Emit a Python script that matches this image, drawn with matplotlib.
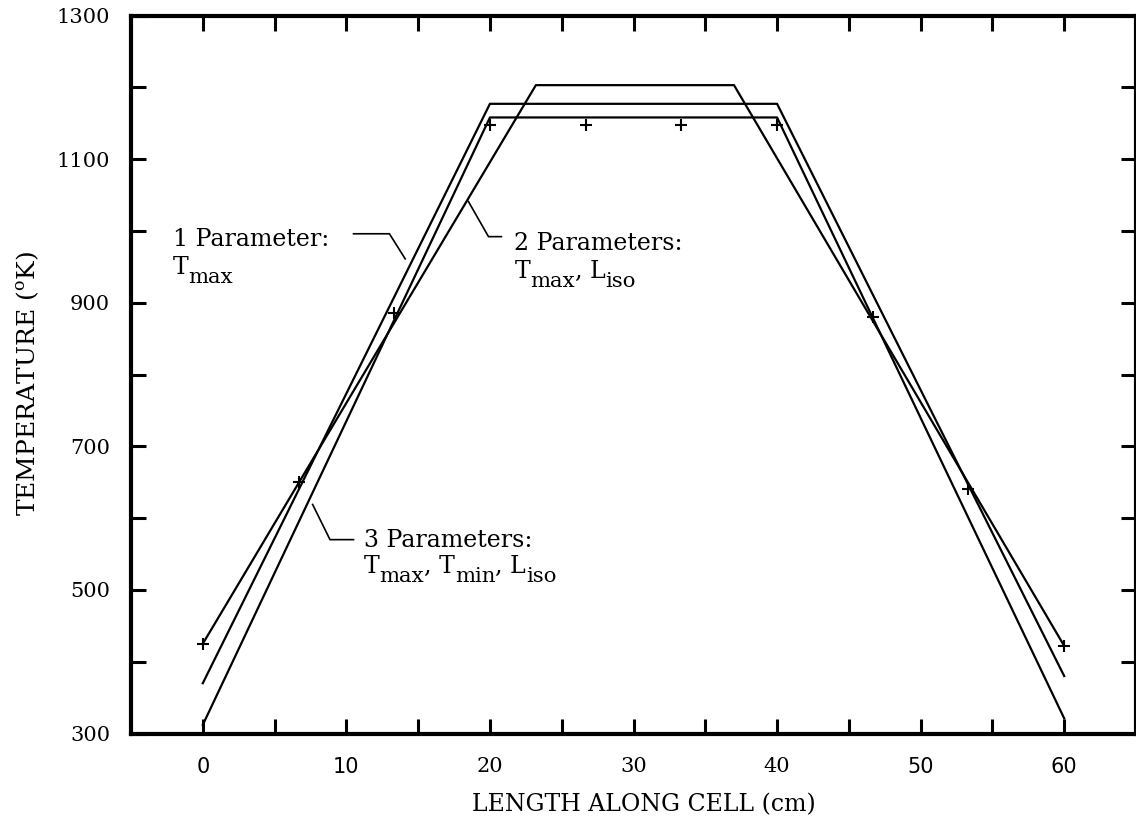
import numpy as np
import matplotlib
matplotlib.use("Agg")
import matplotlib.pyplot as plt
from matplotlib.transforms import offset_copy

plt.rcParams['font.family'] = ['DejaVu Serif']
plt.rcParams['mathtext.fontset'] = 'dejavuserif'

# measured temperatures along the cell
x_meas = [0, 6.67, 13.33, 20, 26.67, 33.33, 40, 46.67, 53.33, 60]
t_meas = [425, 650, 885, 1147, 1147, 1147, 1147, 880, 640, 422]

# trapezoidal fits
x_fit1 = [0, 20, 40, 60]
t_fit1 = [370, 1177, 1177, 380]      # 1 parameter: Tmax

x_fit2 = [0, 23.2, 37.0, 60]
t_fit2 = [425, 1203, 1203, 422]      # 2 parameters: Tmax, Liso

x_fit3 = [0, 20, 40, 60]
t_fit3 = [312, 1158, 1158, 321]      # 3 parameters: Tmax, Tmin, Liso

x_ticks = np.arange(0, 61, 5)
x_labels = ['0', '', '10', '', '20', '', '30', '', '40', '', '50', '', '60']
y_ticks = np.arange(300, 1301, 100)
y_labels = ['300', '', '500', '', '700', '', '900', '', '1100', '', '1300']

fig = plt.figure(figsize=(11.36, 8.19), dpi=100)
ax = fig.add_axes([131 / 1136, 1 - 733.5 / 819, 1005 / 1136, 718 / 819])
renderer = fig.canvas.get_renderer()


def sub_text(x, y, parts, fs):
    """Write text with typewriter-style subscripts: parts = [(str, is_sub), ...]."""
    dx = 0.0
    for s, is_sub in parts:
        size = fs * 0.9 if is_sub else fs
        dy = -9.0 if is_sub else 0.0
        tr = offset_copy(ax.transData, fig=fig, x=dx, y=dy, units='dots')
        t = ax.text(x, y, s, fontsize=size, ha='left', va='baseline', transform=tr)
        dx += t.get_window_extent(renderer).width


ax.plot(x_fit1, t_fit1, color='black', lw=1.6)
ax.plot(x_fit2, t_fit2, color='black', lw=1.6)
ax.plot(x_fit3, t_fit3, color='black', lw=1.6)
ax.plot(x_meas, t_meas, linestyle='none', marker='+', markersize=9,
        markeredgewidth=1.5, color='black')

# labels with leader lines
fs = 17
ax.text(-2.1, 979, '1 Parameter:', fontsize=fs, va='baseline', ha='left')
sub_text(-2.1, 940, [('T', False), ('max', True)], fs)
ax.plot([10.5, 13.0, 14.1], [996, 996, 961], color='black', lw=1.2)

ax.text(21.7, 973, '2 Parameters:', fontsize=fs, va='baseline', ha='left')
sub_text(21.7, 934, [('T', False), ('max', True), (', L', False), ('iso', True)], fs)
ax.plot([20.8, 19.9, 18.5], [992, 992, 1041], color='black', lw=1.2)

ax.text(11.2, 560, '3 Parameters:', fontsize=fs, va='baseline', ha='left')
sub_text(11.2, 523, [('T', False), ('max', True), (', T', False), ('min', True),
                     (', L', False), ('iso', True)], fs)
ax.plot([10.5, 8.86, 7.65], [570, 570, 619], color='black', lw=1.2)

ax.set_xlim(-5, 65)
ax.set_ylim(300, 1300)
ax.set_xticks(x_ticks)
ax.set_xticklabels(x_labels)
ax.set_yticks(y_ticks)
ax.set_yticklabels(y_labels)
ax.tick_params(axis='both', direction='in', length=11, width=2.2,
               top=True, right=True, labelsize=15, color='black')
ax.tick_params(axis='x', pad=17)
ax.tick_params(axis='y', pad=15)
for lab in ax.get_xticklabels():
    if lab.get_text() in ('0', '10', '50', '60'):
        lab.set_fontfamily('DejaVu Sans')

for sp in ax.spines.values():
    sp.set_linewidth(3)
    sp.set_color('black')

ax.set_xlabel('LENGTH ALONG CELL (cm)', fontsize=17)
ax.set_ylabel(r'TEMPERATURE ($^{\rm o}$K)', fontsize=18)
ax.xaxis.set_label_coords(0.51, -0.083)
ax.yaxis.set_label_coords(-0.09, 0.487)

fig.savefig('out.png', dpi=100, facecolor='white')
